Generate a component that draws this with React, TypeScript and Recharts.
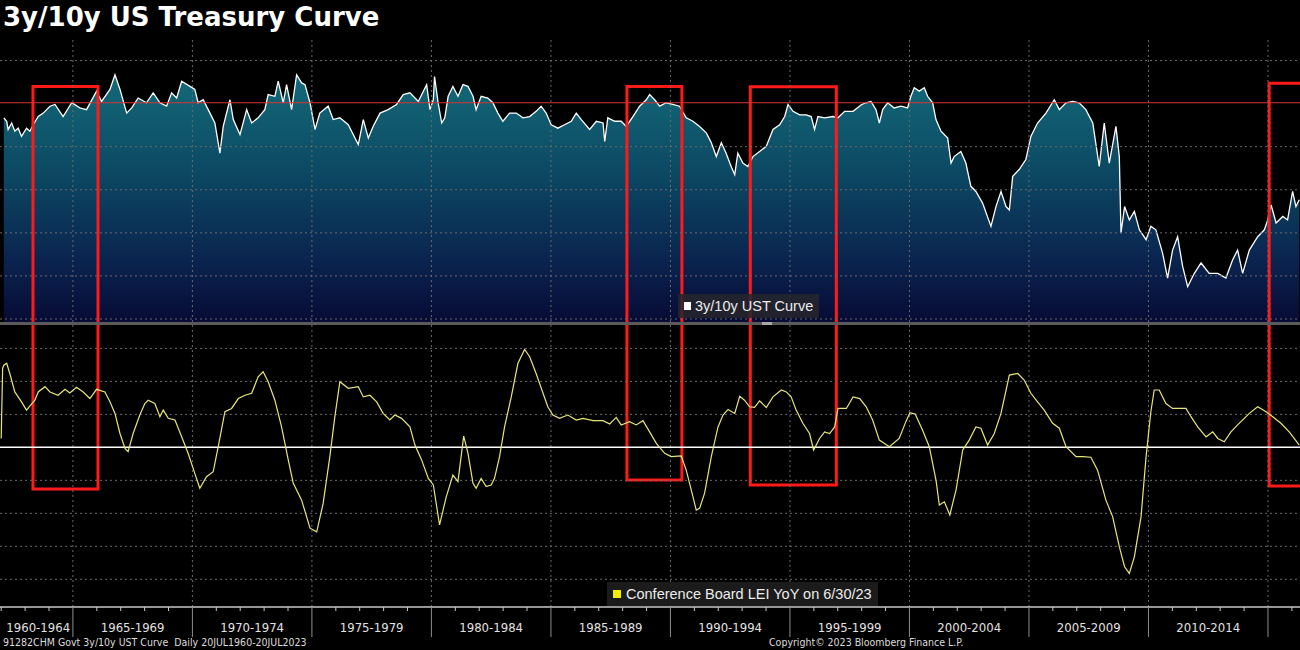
import React from "react";
import {
  ComposedChart,
  Area,
  Line,
  XAxis,
  YAxis,
  ReferenceLine,
  ReferenceArea,
} from "recharts";

// 3y/10y UST curve as plotted (axis shown inverted, arbitrary grid units), [year, value]
const ustCurve: [number, number][] = [
  [1962.11, 4.67], [1962.23, 4.59], [1962.29, 4.4], [1962.44, 4.55], [1962.57, 4.36], [1962.71, 4.43],
  [1962.85, 4.24], [1963.06, 4.43], [1963.2, 4.36], [1963.34, 4.51], [1963.55, 4.7], [1963.76, 4.78],
  [1964.04, 4.94], [1964.25, 4.98], [1964.59, 4.7], [1964.95, 5.02], [1965.29, 4.9], [1965.57, 4.86],
  [1965.99, 5.29], [1966.2, 5.05], [1966.55, 5.33], [1966.76, 5.67], [1966.97, 5.33], [1967.25, 4.78],
  [1967.46, 4.9], [1967.73, 5.13], [1968.08, 5.02], [1968.36, 5.25], [1968.64, 5.02], [1968.92, 4.94],
  [1969.13, 5.25], [1969.34, 5.13], [1969.55, 5.52], [1969.9, 5.4], [1970.1, 5.33], [1970.24, 5.02],
  [1970.45, 5.09], [1970.66, 4.86], [1970.94, 4.55], [1971.15, 3.85], [1971.29, 4.47], [1971.57, 5.09],
  [1971.71, 4.63], [1971.99, 4.28], [1972.27, 4.86], [1972.48, 4.55], [1972.75, 4.67], [1973.03, 4.86],
  [1973.17, 5.21], [1973.45, 5.17], [1973.59, 5.52], [1973.8, 5.02], [1973.94, 5.44], [1974.15, 4.86],
  [1974.36, 5.67], [1974.57, 5.48], [1974.71, 5.44], [1974.92, 5.02], [1975.13, 4.4], [1975.33, 4.78],
  [1975.68, 4.94], [1975.89, 4.63], [1976.17, 4.67], [1976.52, 4.51], [1976.8, 4.2], [1976.94, 4.05],
  [1977.15, 4.63], [1977.36, 4.2], [1977.56, 4.47], [1977.85, 4.78], [1978.19, 4.86], [1978.54, 4.98],
  [1978.82, 5.21], [1979.1, 5.25], [1979.45, 5.05], [1979.8, 5.44], [1979.94, 4.86], [1980.08, 5.09],
  [1980.13, 5.63], [1980.28, 5.02], [1980.43, 4.55], [1980.56, 4.67], [1980.7, 5.17], [1980.9, 5.4],
  [1981.11, 5.17], [1981.32, 5.44], [1981.53, 5.4], [1981.74, 5.17], [1981.87, 4.86], [1982.08, 5.17],
  [1982.36, 5.13], [1982.57, 5.02], [1982.78, 4.78], [1982.99, 4.59], [1983.27, 4.78], [1983.55, 4.78],
  [1983.83, 4.67], [1984.11, 4.7], [1984.38, 4.82], [1984.59, 4.94], [1984.8, 4.78], [1985.01, 4.51],
  [1985.29, 4.43], [1985.57, 4.51], [1985.85, 4.59], [1986.06, 4.78], [1986.27, 4.63], [1986.62, 4.4],
  [1986.9, 4.59], [1987.18, 4.55], [1987.25, 4.12], [1987.38, 4.67], [1987.67, 4.59], [1987.94, 4.59],
  [1988.15, 4.47], [1988.43, 4.7], [1988.71, 4.94], [1988.99, 5.09], [1989.13, 5.21], [1989.34, 5.09],
  [1989.55, 4.94], [1989.82, 5.02], [1990.1, 4.98], [1990.38, 4.94], [1990.66, 4.67], [1990.94, 4.59],
  [1991.22, 4.47], [1991.5, 4.32], [1991.71, 4.09], [1991.92, 3.77], [1992.13, 4.09], [1992.33, 3.85],
  [1992.54, 3.54], [1992.69, 3.35], [1992.82, 3.85], [1993.03, 3.62], [1993.24, 3.54], [1993.45, 3.77],
  [1993.73, 3.89], [1994.01, 4.01], [1994.29, 4.4], [1994.57, 4.51], [1994.78, 4.7], [1994.92, 4.98],
  [1995.13, 4.82], [1995.41, 4.74], [1995.68, 4.74], [1995.89, 4.7], [1996.03, 4.4], [1996.17, 4.7],
  [1996.45, 4.67], [1996.8, 4.7], [1997.01, 4.67], [1997.29, 4.82], [1997.64, 4.82], [1998.0, 4.98],
  [1998.19, 5.02], [1998.39, 5.05], [1998.6, 4.86], [1998.74, 4.55], [1998.88, 4.86], [1999.09, 5.02],
  [1999.36, 4.9], [1999.64, 4.94], [1999.92, 4.9], [2000.06, 5.17], [2000.2, 5.37], [2000.41, 5.29],
  [2000.62, 5.37], [2000.76, 5.17], [2000.97, 5.02], [2001.11, 4.63], [2001.32, 4.36], [2001.6, 4.2],
  [2001.74, 3.62], [2001.87, 3.77], [2002.15, 3.89], [2002.36, 3.62], [2002.57, 3.08], [2002.78, 2.96],
  [2003.06, 2.69], [2003.41, 2.15], [2003.62, 2.61], [2003.83, 2.96], [2004.04, 2.61], [2004.18, 2.53],
  [2004.32, 3.31], [2004.59, 3.47], [2004.87, 3.7], [2005.08, 4.24], [2005.36, 4.55], [2005.71, 4.78],
  [2006.06, 5.09], [2006.27, 4.86], [2006.55, 5.02], [2006.83, 5.05], [2007.1, 5.02], [2007.38, 4.86],
  [2007.67, 4.55], [2007.94, 3.54], [2008.15, 4.55], [2008.36, 3.62], [2008.64, 4.47], [2008.78, 3.77],
  [2008.85, 1.99], [2009.0, 2.61], [2009.2, 2.3], [2009.41, 2.5], [2009.62, 2.07], [2009.9, 1.84],
  [2010.1, 2.15], [2010.31, 2.07], [2010.59, 1.53], [2010.8, 0.95], [2011.01, 1.6], [2011.22, 1.91],
  [2011.43, 1.22], [2011.64, 0.75], [2011.92, 1.06], [2012.2, 1.3], [2012.54, 1.06], [2012.9, 1.06],
  [2013.24, 0.95], [2013.52, 1.37], [2013.73, 1.6], [2013.94, 1.06], [2014.22, 1.6], [2014.57, 1.91],
  [2014.85, 2.07], [2014.99, 2.3], [2015.13, 2.65], [2015.34, 2.23], [2015.62, 2.38], [2015.82, 2.3],
  [2016.03, 2.96], [2016.17, 2.61], [2016.31, 2.77],
];

// Conference Board LEI YoY (grid units), [year, value]
const leiYoY: [number, number][] = [
  [1962.0, 0.27], [1962.06, 2.4], [1962.11, 2.49], [1962.23, 2.55], [1962.36, 2.24], [1962.57, 1.68],
  [1962.71, 1.53], [1962.85, 1.38], [1963.06, 1.13], [1963.23, 1.28], [1963.41, 1.43], [1963.55, 1.68],
  [1963.83, 1.84], [1964.04, 1.68], [1964.38, 1.58], [1964.67, 1.76], [1964.87, 1.65], [1965.15, 1.82],
  [1965.43, 1.68], [1965.71, 1.48], [1965.99, 1.76], [1966.34, 1.68], [1966.55, 1.38], [1966.76, 1.03],
  [1966.97, 0.42], [1967.18, -0.03], [1967.31, -0.13], [1967.52, 0.42], [1967.8, 0.98], [1968.01, 1.33],
  [1968.15, 1.43], [1968.43, 1.33], [1968.64, 0.93], [1968.78, 1.13], [1968.99, 0.88], [1969.27, 0.83],
  [1969.55, 0.32], [1969.82, -0.18], [1970.1, -0.79], [1970.31, -1.24], [1970.59, -0.89], [1970.87, -0.74],
  [1971.08, 0.02], [1971.36, 1.08], [1971.64, 1.18], [1971.92, 1.48], [1972.2, 1.58], [1972.48, 1.64],
  [1972.75, 2.14], [1972.96, 2.29], [1973.17, 1.99], [1973.45, 1.43], [1973.73, 0.62], [1974.01, -0.38],
  [1974.22, -1.09], [1974.57, -1.6], [1974.92, -2.45], [1975.2, -2.56], [1975.47, -1.7], [1975.75, -0.28],
  [1975.96, 0.93], [1976.17, 1.99], [1976.52, 1.79], [1976.94, 1.84], [1977.15, 1.53], [1977.43, 1.58],
  [1977.71, 1.38], [1977.98, 1.03], [1978.26, 0.83], [1978.47, 0.98], [1978.75, 0.88], [1979.1, 0.62],
  [1979.31, 0.07], [1979.59, -0.38], [1979.87, -0.94], [1980.08, -1.14], [1980.34, -2.35], [1980.62, -1.5],
  [1980.9, -0.84], [1981.11, -1.04], [1981.35, 0.34], [1981.53, -0.18], [1981.74, -1.09], [1981.87, -1.24],
  [1982.08, -0.94], [1982.29, -1.19], [1982.5, -1.14], [1982.64, -0.94], [1982.85, -0.28], [1983.06, 0.62],
  [1983.34, 1.53], [1983.62, 2.55], [1983.9, 2.97], [1984.11, 2.75], [1984.38, 2.24], [1984.67, 1.64],
  [1984.87, 1.23], [1985.08, 0.98], [1985.36, 0.88], [1985.71, 0.98], [1986.06, 0.83], [1986.34, 0.88],
  [1986.76, 0.81], [1987.18, 0.81], [1987.46, 0.71], [1987.73, 0.91], [1987.94, 0.68], [1988.29, 0.78],
  [1988.57, 0.68], [1988.85, 0.81], [1989.13, 0.47], [1989.41, 0.12], [1989.76, -0.18], [1990.03, -0.28],
  [1990.45, -0.26], [1990.66, -0.69], [1990.87, -1.29], [1991.08, -1.9], [1991.22, -1.85], [1991.43, -1.39],
  [1991.71, -0.28], [1991.99, 0.62], [1992.2, 0.98], [1992.41, 1.15], [1992.69, 1.03], [1992.9, 1.55],
  [1993.1, 1.43], [1993.31, 1.23], [1993.52, 1.21], [1993.73, 1.41], [1994.01, 1.21], [1994.29, 1.53],
  [1994.64, 1.74], [1994.85, 1.68], [1995.05, 1.53], [1995.26, 1.13], [1995.54, 0.73], [1995.82, 0.42],
  [1995.99, -0.08], [1996.24, 0.27], [1996.45, 0.47], [1996.66, 0.42], [1996.87, 0.62], [1997.01, 1.18],
  [1997.36, 1.18], [1997.64, 1.53], [1997.92, 1.48], [1998.19, 1.23], [1998.46, 0.83], [1998.74, 0.22],
  [1999.16, 0.02], [1999.57, 0.27], [1999.85, 0.78], [2000.02, 1.05], [2000.24, 1.01], [2000.55, 0.52],
  [2000.83, 0.02], [2001.11, -0.99], [2001.25, -1.75], [2001.46, -1.65], [2001.69, -2.05], [2001.95, -1.29],
  [2002.23, -0.08], [2002.5, 0.22], [2002.78, 0.62], [2002.99, 0.58], [2003.27, 0.07], [2003.55, 0.42],
  [2003.83, 1.03], [2004.18, 2.19], [2004.53, 2.24], [2004.8, 2.04], [2005.08, 1.64], [2005.36, 1.38],
  [2005.64, 1.13], [2005.99, 0.73], [2006.27, 0.58], [2006.55, 0.02], [2006.97, -0.28], [2007.25, -0.28],
  [2007.59, -0.3], [2007.87, -0.69], [2008.22, -1.6], [2008.5, -2.1], [2008.78, -3.01], [2009.0, -3.62],
  [2009.2, -3.82], [2009.41, -3.32], [2009.69, -2.1], [2009.9, -0.28], [2010.1, 1.08], [2010.24, 1.74],
  [2010.45, 1.74], [2010.73, 1.33], [2011.01, 1.18], [2011.36, 1.18], [2011.57, 1.18], [2011.78, 0.93],
  [2012.06, 0.62], [2012.41, 0.32], [2012.69, 0.47], [2012.9, 0.27], [2013.17, 0.17], [2013.45, 0.47],
  [2013.73, 0.68], [2014.01, 0.88], [2014.22, 1.03], [2014.57, 1.23], [2014.92, 1.08], [2015.2, 0.93],
  [2015.54, 0.73], [2015.89, 0.47], [2016.31, 0.07],
];

const periodLabels = [
  "1960-1964", "1965-1969", "1970-1974", "1975-1979", "1980-1984", "1985-1989",
  "1990-1994", "1995-1999", "2000-2004", "2005-2009", "2010-2014",
];
const gridYears = [1965, 1970, 1975, 1980, 1985, 1990, 1995, 2000, 2005, 2010, 2015];

// highlighted periods (red boxes): start year, end year, top in upper pane, bottom in lower pane
const boxes = [
  { from: 1963.33, to: 1966.05, top: 5.4, bottom: -1.26 },
  { from: 1988.18, to: 1990.48, top: 5.4, bottom: -0.99 },
  { from: 1993.34, to: 1996.94, top: 5.39, bottom: -1.14 },
  { from: 2015.05, to: 2016.34, top: 5.47, bottom: -1.17 },
];

const X_DOMAIN: [number, number] = [1961.95, 2016.34];
const TOP_DOMAIN: [number, number] = [-0.07, 6.5];
const BOT_DOMAIN: [number, number] = [-4.84, 3.71];
const topGrid = [0, 1, 2, 3, 4, 6]; // the 5 line sits under the red reference line
const botGrid = [-4, -3, -2, -1, 1, 2, 3];
const RED_LEVEL = 5.02;

const ustData = ustCurve.map(([year, v]) => ({ year, v }));
const leiData = leiYoY.map(([year, v]) => ({ year, v }));

const minorYears: number[] = [];
for (let y = Math.ceil(X_DOMAIN[0]); y <= X_DOMAIN[1]; y++) minorYears.push(y);
const labelTicks = periodLabels.map((_, i) => {
  const mid = 1960 + i * 5 + 2.5;
  return Math.max(mid, X_DOMAIN[0] + 1.6);
});
const xTicks = [...minorYears, ...labelTicks].sort((a, b) => a - b);

const GRID = "#6b6b6b";
const RED = "#ff1a1a";
const NARROW = "'Liberation Sans Narrow', 'DejaVu Sans Condensed', sans-serif";

function YearTick(props: any) {
  const { x, y, payload } = props;
  const v = payload.value;
  if (Number.isInteger(v)) {
    const major = v % 5 === 0;
    return (
      <line x1={x} x2={x} y1={y} y2={y + (major ? 30 : 4)} stroke={major ? "#8c8c8c" : "#c8c8c8"} strokeWidth={1} />
    );
  }
  const idx = Math.floor((v - 1960) / 5);
  return (
    <text x={x} y={y + 25} textAnchor="middle" fill="#e2e2e2" fontSize={13} fontFamily={NARROW}>
      {periodLabels[idx]}
    </text>
  );
}

// box drawn with one side left open where it crosses into the other pane
function OpenBox(props: any) {
  const { x, y, width, height, open, clipRight } = props;
  const l = x, r = x + width, t = y, b = y + height;
  let d = "";
  if (open === "bottom") {
    d = `M${l},${b} L${l},${t} L${r},${t}` + (clipRight ? "" : ` L${r},${b}`);
  } else {
    d = `M${l},${t} L${l},${b} L${r},${b}` + (clipRight ? "" : ` L${r},${t}`);
  }
  return <path d={d} fill="none" stroke={RED} strokeWidth={3} />;
}

function TopPane() {
  return (
    <ComposedChart width={1300} height={283} data={ustData} margin={{ top: 0, right: 0, bottom: 0, left: 0 }}>
      <defs>
        <linearGradient id="ustFill" x1="0" y1="0" x2="0" y2="1">
          <stop offset="0%" stopColor="#136a79" />
          <stop offset="40%" stopColor="#0c4862" />
          <stop offset="75%" stopColor="#0a244f" />
          <stop offset="100%" stopColor="#070b35" />
        </linearGradient>
      </defs>
      <XAxis dataKey="year" type="number" domain={X_DOMAIN} allowDataOverflow hide />
      <YAxis type="number" domain={TOP_DOMAIN} allowDataOverflow hide />
      <Area
        type="linear"
        dataKey="v"
        stroke="#ffffff"
        strokeWidth={1.3}
        fill="url(#ustFill)"
        fillOpacity={1}
        baseValue={TOP_DOMAIN[0]}
        isAnimationActive={false}
      />
      {topGrid.map((g) => (
        <ReferenceLine key={`h${g}`} y={g} stroke={GRID} strokeDasharray="2 3" />
      ))}
      {gridYears.map((g) => (
        <ReferenceLine key={`v${g}`} x={g} stroke={GRID} strokeDasharray="2 3" />
      ))}
      <ReferenceLine y={RED_LEVEL} stroke="#d83434" strokeWidth={1.2} />
      {boxes.map((b, i) => (
        <ReferenceArea
          key={i}
          x1={b.from}
          x2={b.to}
          y1={TOP_DOMAIN[0]}
          y2={b.top}
          ifOverflow="visible"
          shape={(p: any) => <OpenBox {...p} open="bottom" clipRight={b.to >= X_DOMAIN[1]} />}
        />
      ))}
    </ComposedChart>
  );
}

function BottomPane() {
  return (
    <ComposedChart width={1300} height={312} data={leiData} margin={{ top: 0, right: 0, bottom: 0, left: 0 }}>
      <XAxis
        dataKey="year"
        type="number"
        domain={X_DOMAIN}
        allowDataOverflow
        ticks={xTicks}
        interval={0}
        tick={<YearTick />}
        tickLine={false}
        tickSize={0}
        tickMargin={0}
        height={30}
        axisLine={{ stroke: "#c8c8c8", strokeWidth: 1.5 }}
      />
      <YAxis type="number" domain={BOT_DOMAIN} allowDataOverflow hide />
      {botGrid.map((g) => (
        <ReferenceLine key={`h${g}`} y={g} stroke={GRID} strokeDasharray="2 3" />
      ))}
      {gridYears.map((g) => (
        <ReferenceLine key={`v${g}`} x={g} stroke={GRID} strokeDasharray="2 3" />
      ))}
      <ReferenceLine y={0} stroke="#ffffff" strokeWidth={1.5} />
      <Line
        type="linear"
        dataKey="v"
        stroke="#e6e67c"
        strokeWidth={1.2}
        dot={false}
        isAnimationActive={false}
      />
      {boxes.map((b, i) => (
        <ReferenceArea
          key={i}
          x1={b.from}
          x2={b.to}
          y1={b.bottom}
          y2={BOT_DOMAIN[1]}
          ifOverflow="visible"
          shape={(p: any) => <OpenBox {...p} open="top" clipRight={b.to >= X_DOMAIN[1]} />}
        />
      ))}
    </ComposedChart>
  );
}

const legendBox: React.CSSProperties = {
  position: "absolute",
  display: "flex",
  alignItems: "center",
  background: "rgba(38,38,44,0.85)",
  fontFamily: "'Liberation Sans', Arial, sans-serif",
  fontSize: 14.5,
  color: "#ececec",
  padding: "0 6px",
  whiteSpace: "nowrap",
};

const footer: React.CSSProperties = {
  position: "absolute",
  top: 636,
  fontFamily: NARROW,
  fontSize: 10.5,
  lineHeight: "13px",
  color: "#dcdcdc",
  whiteSpace: "pre",
};

export default function App() {
  return (
    <div style={{ position: "fixed", left: 0, top: 0, width: 1300, height: 650, background: "#000", overflow: "hidden" }}>
      <div
        style={{
          position: "absolute",
          left: 3,
          top: 3,
          fontFamily: "'DejaVu Sans', Verdana, sans-serif",
          fontWeight: "bold",
          fontSize: 26,
          lineHeight: "28px",
          color: "#fff",
        }}
      >
        3y/10y US Treasury Curve
      </div>
      <div style={{ position: "absolute", left: 0, top: 39 }}>
        <TopPane />
      </div>
      <div style={{ position: "absolute", left: 0, top: 322, width: 1300, height: 3, background: "#5a5a5a" }} />
      <div style={{ position: "absolute", left: 762, top: 322, width: 10, height: 3, background: "#a8a8a8" }} />
      <div style={{ position: "absolute", left: 0, top: 325 }}>
        <BottomPane />
      </div>
      <div style={{ ...legendBox, left: 678, top: 294, height: 24 }}>
        <span style={{ width: 7, height: 8, background: "#fff", marginRight: 4 }} />
        3y/10y UST Curve
      </div>
      <div style={{ ...legendBox, left: 607, top: 582, height: 24, background: "rgba(30,30,30,0.9)" }}>
        <span style={{ width: 8, height: 8, background: "#f0f000", marginRight: 5 }} />
        Conference Board LEI YoY on 6/30/23
      </div>
      <div style={{ ...footer, left: 3 }}>{"91282CHM Govt 3y/10y UST Curve  Daily 20JUL1960-20JUL2023"}</div>
      <div style={{ ...footer, left: 769 }}>Copyright© 2023 Bloomberg Finance L.P.</div>
    </div>
  );
}
